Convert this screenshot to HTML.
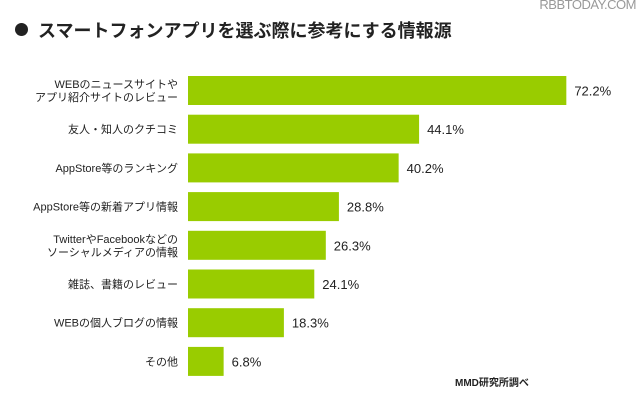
<!DOCTYPE html>
<html><head><meta charset="utf-8"><style>
body{margin:0;width:640px;height:400px;background:#fff;overflow:hidden;font-family:"Liberation Sans","Noto Sans CJK JP",sans-serif;position:relative}
.t{position:absolute}
</style></head><body>
<div class="t" style="right:4px;top:-3px;font-size:13px;color:#999;letter-spacing:-0.5px">RBBTODAY.COM</div>
<div class="t" style="left:15px;top:23px;width:13px;height:13px;border-radius:50%;background:#222"></div>
<div class="t" style="left:38px;top:17px;font-size:18px;font-weight:bold;color:#222;white-space:nowrap">スマートフォンアプリを選ぶ際に参考にする情報源</div>
<svg id="c" class="t" style="left:0;top:0" width="640" height="400"></svg>
<div class="t" style="left:455px;top:374px;font-size:10px;font-weight:bold;color:#222">MMD研究所調べ</div>
<script>
const categories=[["WEBのニュースサイトや","アプリ紹介サイトのレビュー"],["友人・知人のクチコミ"],["AppStore等のランキング"],["AppStore等の新着アプリ情報"],["TwitterやFacebookなどの","ソーシャルメディアの情報"],["雑誌、書籍のレビュー"],["WEBの個人ブログの情報"],["その他"]];
const values=[72.2,44.1,40.2,28.8,26.3,24.1,18.3,6.8];
const valueLabels=["72.2%","44.1%","40.2%","28.8%","26.3%","24.1%","18.3%","6.8%"];
const svg=document.getElementById('c');const NS="http://www.w3.org/2000/svg";
const x0=188,k=5.24,top0=76,pitch=38.7,bh=29;
const xs=v=>v*k;const ys=i=>top0+i*pitch;
function mk(t,a){const e=document.createElementNS(NS,t);for(const q in a)e.setAttribute(q,a[q]);svg.appendChild(e);return e;}
values.forEach((v,i)=>{
 const r=mk('rect',{x:x0,y:ys(i),width:xs(v),height:bh,fill:'#99cc00'});
 
 
 const tv=mk('text',{x:x0+xs(v)+8,y:ys(i)+bh/2+5,'font-size':13,fill:'#222'});
 tv.textContent=valueLabels[i];
 
 
 const lines=categories[i];
 lines.forEach((s,j)=>{
  const ty=ys(i)+bh/2+4+(j-(lines.length-1)/2)*13;
  const tl=mk('text',{x:178,y:ty,'font-size':11,fill:'#222','text-anchor':'end'});
  tl.textContent=s;
  
  
 });
});
</script>
</body></html>
